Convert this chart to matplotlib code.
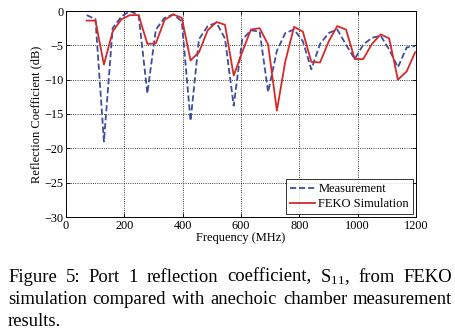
import matplotlib
matplotlib.use("Agg")
import matplotlib.pyplot as plt

# frequency samples (MHz)
freq = [71, 101, 130, 160, 190, 219, 249, 279, 308, 338,
        368, 397, 427, 456, 486, 516, 545, 575, 604, 634,
        664, 693, 723, 752, 782, 812, 841, 871, 901, 930,
        960, 990, 1019, 1049, 1079, 1108, 1138, 1168, 1197]

# measured S11 (dB)
meas = [-0.6, -1.2, -19.0, -2.5, -0.8, 0.0, -0.6, -12.0, -2.7, -1.0,
        -0.5, -1.5, -16.0, -4.1, -2.2, -1.7, -4.0, -13.8, -4.2, -2.8,
        -3.0, -11.8, -5.8, -3.2, -2.7, -4.4, -8.5, -4.8, -3.2, -2.7,
        -4.9, -7.0, -4.9, -3.9, -3.6, -5.6, -8.2, -5.3, -5.1]

# FEKO simulated S11 (dB)
feko = [-1.4, -1.4, -7.8, -3.0, -1.2, -0.6, -0.6, -4.8, -4.7, -1.3,
        -0.5, -1.0, -7.2, -6.0, -2.8, -1.6, -2.0, -9.4, -6.0, -2.7,
        -2.5, -4.9, -14.5, -7.3, -2.3, -3.0, -7.4, -7.5, -4.4, -2.2,
        -2.7, -7.0, -7.0, -4.8, -3.4, -4.0, -10.0, -8.8, -6.0]

xticks = [0, 200, 400, 600, 800, 1000, 1200]
yticks = [0, -5, -10, -15, -20, -25, -30]

caption = ["Figure 5:  Port 1 reflection coefficient, $\\mathregular{S_{11}}$, from FEKO",
           "simulation compared with anechoic chamber measurement",
           "results."]

serif = ["Liberation Serif", "DejaVu Serif"]
plt.rcParams['font.family'] = serif
plt.rcParams['mathtext.fontset'] = 'custom'
plt.rcParams['mathtext.rm'] = 'Liberation Serif'

W, H = 456, 332
fig = plt.figure(figsize=(W / 100, H / 100), dpi=100)
ax = fig.add_axes([66 / W, 1 - 217 / H, 350 / W, 206 / H])

ax.plot(freq, meas, ls='--', color='#3d4f9c', lw=1.3, dashes=(3.4, 1.6),
        label='Measurement')
ax.plot(freq, feko, ls='-', color='#d62a2a', lw=1.3, label='FEKO Simulation')

ax.set_xlim(0, 1200)
ax.set_ylim(-30, 0)
ax.set_xticks(xticks)
ax.set_yticks(yticks)
ax.tick_params(direction='in', top=True, right=True, labelsize=8.8,
               length=3, width=0.6, pad=2)
for s in ax.spines.values():
    s.set_linewidth(0.7)
ax.grid(True, ls=':', color='black', lw=0.6)
ax.set_xlabel('Frequency (MHz)', fontsize=9, labelpad=0)
ax.set_ylabel('Reflection Coefficient (dB)', fontsize=9, labelpad=1)

leg = ax.legend(loc='lower right', fontsize=9, frameon=True, fancybox=False,
                handlelength=2.0, handletextpad=0.3, borderpad=0.3,
                labelspacing=0.25, borderaxespad=0.25)
leg.get_frame().set_edgecolor('black')
leg.get_frame().set_linewidth(0.7)

# caption, justified lines like the source document
fig.canvas.draw()
rend = fig.canvas.get_renderer()
x0, x1 = 8, 452
ys = [277, 300, 322]
fs = 13.4
for i, (line, y) in enumerate(zip(caption, ys)):
    yf = 1 - y / H
    if i == len(caption) - 1:
        fig.text(x0 / W, yf, line, fontsize=fs, va='center', ha='left')
        continue
    words = line.split()
    arts = [fig.text(0, yf, w, fontsize=fs, va='center', ha='left') for w in words]
    widths = [a.get_window_extent(rend).width for a in arts]
    gap = (x1 - x0 - sum(widths)) / (len(words) - 1)
    x = x0
    for a, w in zip(arts, widths):
        a.set_x(x / W)
        x += w + gap

fig.savefig('out.png', dpi=100)
